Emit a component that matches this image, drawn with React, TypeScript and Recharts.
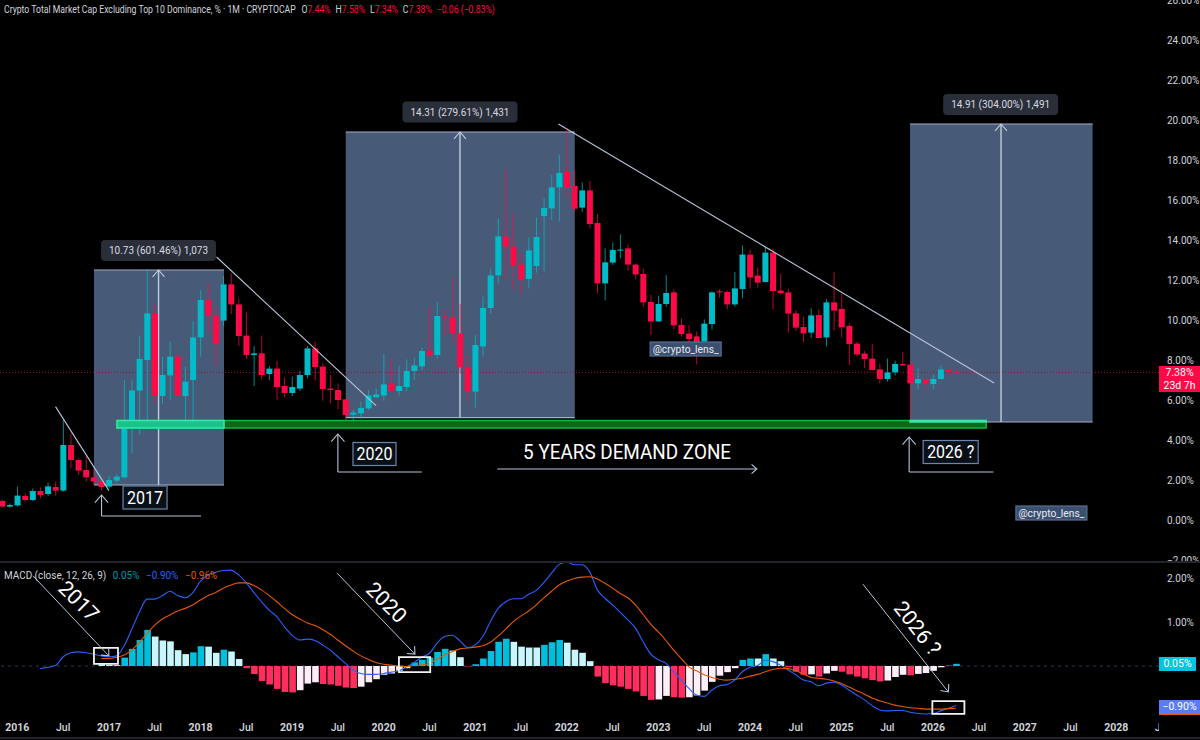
import React from "react";
import { ComposedChart, Bar, Line, Cell, XAxis, YAxis, ReferenceArea, ReferenceLine, ReferenceDot } from "recharts";

// ---- monthly candles, Nov 2015 .. Apr 2026 (index 0 = Nov 2015)
const opens = [.95,.67,.73,1.2,1.0,1.45,1.3,1.65,1.47,3.75,3.0,2.5,2.13,1.93,1.67,1.97,2.13,4.87,6.47,8.0,10.33,6.2,7.23,8.17,6.2,7.0,9.13,11.0,10.22,9.97,11.78,10.78,9.22,8.25,8.33,7.3,7.57,6.7,6.35,6.57,7.25,8.58,7.67,6.57,6.5,6.03,5.27,5.33,5.58,6.13,6.22,6.83,6.45,6.65,7.45,7.68,8.48,8.25,10.18,10.13,9.33,7.63,6.42,8.68,10.6,12.23,14.18,13.67,12.77,12.05,12.7,15.2,15.58,16.63,17.42,16.7,15.62,16.48,14.85,11.83,12.87,13.48,13.58,12.77,12.3,10.9,9.93,10.8,11.38,9.75,9.32,9.18,8.92,9.8,11.43,11.4,10.78,11.55,13.27,12.22,11.9,13.37,11.47,11.38,10.33,9.65,9.37,10.25,9.13,10.88,10.55,9.7,8.82,8.32,8.07,7.53,7.05,7.38,7.8,7.77,6.83,7.05,6.8,7.05,7.53,7.44];
const highs = [1.03,.83,1.67,1.33,1.58,1.63,1.88,1.92,5.0,4.33,3.08,3.17,2.58,2.08,2.2,2.3,7.0,7.03,9.22,12.53,10.8,8.17,8.92,8.33,7.67,9.95,11.5,11.83,10.67,12.2,12.33,11.08,10.38,8.7,9.22,7.7,7.95,7.13,7.17,7.47,8.7,8.92,7.83,7.25,6.83,6.05,5.5,5.92,6.5,6.58,8.3,8.0,7.7,8.03,8.1,8.63,10.7,10.88,10.53,12.13,10.8,8.25,9.25,11.17,12.58,15.07,17.53,15.33,13.33,14.13,15.13,16.1,17.25,18.25,19.53,17.47,16.88,16.95,15.3,13.58,13.87,14.28,13.78,12.83,12.58,11.25,11.2,12.25,11.53,10.08,9.75,9.43,10.03,11.43,11.55,11.47,12.4,13.73,13.5,12.62,13.63,13.57,12.3,11.55,10.5,10.17,10.58,10.53,11.05,12.4,11.33,9.83,8.92,8.45,8.8,7.83,8.07,7.97,8.4,8.0,7.6,7.08,7.25,7.73,7.57,7.58];
const lows = [.62,.63,.67,.92,.95,1.08,1.2,1.22,1.42,2.58,2.25,1.92,1.75,1.47,1.58,1.83,2.08,3.33,4.25,4.9,5.8,5.8,6.0,6.17,5.0,4.9,8.17,9.42,7.7,9.7,10.3,8.7,8.05,6.7,7.03,7.0,6.0,6.12,6.2,6.45,7.08,6.97,5.97,5.83,5.53,4.63,4.83,5.08,5.5,6.12,5.97,6.42,6.22,6.45,7.0,7.5,8.23,8.07,9.2,8.87,7.33,5.97,5.62,8.17,10.33,11.83,12.08,11.53,11.33,11.58,12.37,12.42,15.0,14.92,16.13,15.42,15.4,14.58,11.33,10.97,12.75,13.08,12.47,12.03,10.67,9.25,9.92,10.67,9.53,9.17,8.67,7.78,8.83,9.53,11.12,10.53,10.67,11.08,11.58,11.63,11.88,10.53,11.27,9.37,9.45,8.9,9.12,9.08,8.67,9.47,9.13,7.75,8.17,7.6,7.47,6.83,6.92,7.22,7.72,4.92,6.53,6.5,6.53,7.03,7.2,7.34];
const closes = [.67,.75,1.22,1.0,1.45,1.25,1.68,1.47,3.75,3.0,2.47,2.13,1.93,1.65,2.0,2.17,4.83,6.48,8.05,10.33,6.2,7.25,8.17,6.2,6.92,9.13,11.0,10.22,8.8,11.78,10.78,9.2,8.25,8.33,7.25,7.57,6.65,6.35,6.65,7.25,8.58,7.65,6.55,6.5,6.0,5.25,5.37,5.6,6.23,6.28,6.78,6.45,6.7,7.45,7.73,8.45,8.23,10.2,10.12,9.33,7.63,6.42,8.75,10.6,12.23,14.18,13.67,12.73,12.05,13.48,14.15,15.6,16.63,17.35,16.63,15.57,16.48,14.8,11.83,12.88,13.5,13.52,12.77,12.28,10.88,9.93,10.8,11.35,9.73,9.3,9.05,8.9,9.82,11.38,11.38,10.78,11.58,13.27,12.13,11.87,13.37,11.45,11.35,10.32,9.62,9.33,10.23,9.1,10.88,10.47,9.63,8.8,8.28,8.05,7.5,7.05,7.38,7.8,7.73,6.83,7.05,6.8,7.05,7.53,7.42,7.38];

// ---- MACD (macd line starts at index 5, signal and histogram at index 13)
const macdFirst = 5;
const signalFirst = 13;
const macdLine = [-.06,-.03,.01,.21,.30,.32,.30,.27,.23,.21,.23,.46,.84,1.23,1.52,1.52,1.60,1.70,1.60,1.55,1.67,1.93,2.07,2.13,2.17,2.18,2.07,1.89,1.67,1.46,1.27,1.12,.89,.70,.59,.61,.58,.48,.36,.21,.06,-.09,-.17,-.19,-.19,-.17,-.14,-.11,-.02,.08,.20,.29,.52,.67,.70,.57,.42,.48,.67,1.01,1.31,1.46,1.53,1.53,1.63,1.72,1.90,2.11,2.31,2.36,2.30,2.30,2.14,1.73,1.54,1.39,1.22,1.05,.86,.55,.27,.14,.06,-.13,-.32,-.51,-.66,-.69,-.55,-.45,-.42,-.32,-.13,-.03,.01,.13,.10,.02,-.09,-.20,-.32,-.36,-.45,-.39,-.37,-.43,-.55,-.66,-.77,-.90,-1.00,-1.02,-1.01,-1.01,-1.05,-1.08,-1.09,-1.08,-1.02,-.96,-.90];
const signalLine = [.17,.17,.20,.25,.36,.54,.74,.93,1.07,1.16,1.25,1.31,1.39,1.50,1.60,1.67,1.77,1.84,1.89,1.89,1.83,1.73,1.60,1.46,1.31,1.17,1.07,.98,.92,.83,.72,.59,.46,.34,.23,.15,.08,.04,.02,0,-.01,.01,.02,.06,.16,.25,.33,.39,.41,.43,.46,.54,.68,.84,1.01,1.14,1.25,1.39,1.55,1.70,1.84,1.93,1.99,2.02,2.03,1.98,1.88,1.77,1.65,1.55,1.39,1.17,.95,.77,.58,.36,.17,-.02,-.11,-.20,-.26,-.30,-.32,-.30,-.28,-.23,-.19,-.13,-.08,-.05,-.06,-.11,-.18,-.26,-.28,-.30,-.34,-.40,-.48,-.56,-.64,-.73,-.79,-.84,-.89,-.92,-.95,-.96,-.98,-.98,-.98,-.97,-.96];
const histogram = [.04,.03,.02,.19,.39,.59,.82,.67,.58,.56,.36,.27,.31,.45,.44,.30,.37,.33,.16,-.05,-.18,-.34,-.42,-.52,-.59,-.60,-.55,-.40,-.37,-.41,-.42,-.45,-.49,-.50,-.47,-.37,-.30,-.20,-.17,-.11,-.05,.08,.14,.19,.32,.39,.35,.20,-.01,.04,.17,.34,.55,.62,.55,.44,.42,.42,.48,.54,.59,.53,.37,.30,.11,-.24,-.39,-.44,-.47,-.52,-.58,-.68,-.77,-.76,-.68,-.71,-.72,-.71,-.67,-.56,-.36,-.22,-.14,-.05,.14,.17,.17,.27,.17,.11,-.03,-.13,-.20,-.19,-.24,-.17,-.11,-.13,-.19,-.24,-.28,-.32,-.35,-.33,-.25,-.20,-.21,-.18,-.16,-.11,-.03,.01,.05];

// ---- axes
const priceTicks = [-2,0,2,4,6,8,10,12,14,16,18,20,22,24,26];
const macdTicks = [1,2];
const timeTicks = [2,8,14,20,26,32,38,44,50,56,62,68,74,80,86,92,98,104,110,116,122,128,134,140,146,152];
const timeLabels = ["2016","Jul","2017","Jul","2018","Jul","2019","Jul","2020","Jul","2021","Jul","2022","Jul","2023","Jul","2024","Jul","2025","Jul","2026","Jul","2027","Jul","2028","Jul"];
const timeDomain = [-0.275, 151.6];
const priceDomain = [-2.05, 26];
const macdDomain = [-1.182, 2.364];
const lastPrice = 7.38;

// ---- drawings, in month index / percent
const boxes = [[12.04,29.08,1.75,12.5],[45.03,75.04,5.12,19.4],[118.98,142.9,4.9,19.8]];
const measures = [[20.5,1.75,20.5,12.5],[60,5.12,60,19.4],[130.9,4.9,130.9,19.8]];
const measureLabels = [[20.5,13.48,"10.73 (601.46%) 1,073"],[60,20.4,"14.31 (279.61%) 1,431"],[130.85,20.78,"14.91 (304.00%) 1,491"]];
const trendLines = [[7,5.67,14,1.47],[28.1,13.15,49,5.72],[72.9,19.8,130,6.85]];
const elbowUp = [[13.03,.2,13.03,1.25],[44,2.4,44,4.3],[118.86,2.4,118.86,4.15]];
const elbowFoot = [[13.03,.2,26.07,.2],[44,2.4,55,2.4],[118.86,2.4,129.9,2.4]];
const yearTags = [[18.73,1.125,"2017",44,36],[48.8,3.3,"2020",43,36],[124.3,3.4,"2026 ?",55,47]];
const handles = [[89.57,8.55],[137.5,.35]];
const demandLabel = "5 YEARS DEMAND ZONE";
const demandPos = [81.9,3.4];
const demandArrow = [64.9,2.55,98.9,2.55];
const zone = [15.06,128.95,4.6,4.97];
const zoneOverBoxes = [[15.06,29.08,4.6,4.97],[118.98,128.95,4.9,4.97]];
const macdArrows = [[4.05,2.05,14,.23],[43.9,2.11,54.1,.27],[112.8,1.86,124,-.59]];
const macdFrames = [[12.04,15.19,.05,.41],[52,56.1,-.14,.2],[121.9,126.1,-1.09,-.8]];
const macdNotes = [[10.08,1.48,"2017",45],[50.4,1.45,"2020",45],[120,.86,"2026 ?",52]];

const candles = opens.map((o, i) => ({ i, o, h: highs[i], l: lows[i], c: closes[i] }));
const macdRows = opens.map((_, i) => ({
  i,
  macd: i >= macdFirst ? macdLine[i - macdFirst] : null,
  signal: i >= signalFirst ? signalLine[i - signalFirst] : null,
  hist: i >= signalFirst ? histogram[i - signalFirst] : null,
}));

const FONT = "Roboto, sans-serif";
const UP = "#00bcc8";
const DOWN = "#ff0a47";
const AXIS = "#d1d4dc";
const LINE = "#b8c4d8";

function histColor(i: number) {
  const v = histogram[i];
  const prev = i > 0 ? histogram[i - 1] : v + 1;
  if (v >= 0) return v > prev ? "#00bfdc" : "#c8f6fc";
  return v < prev ? "#ff2e5e" : "#fdeefa";
}

function Candle(props: any) {
  const { x, y, width, height, payload } = props;
  const { o, h, l, c } = payload;
  const py = (v: number) => y + ((h - v) / (h - l)) * height;
  const cx = x + width / 2;
  const color = c >= o ? UP : DOWN;
  const top = py(Math.max(o, c));
  const bot = py(Math.min(o, c));
  return (
    <g>
      <line x1={cx} x2={cx} y1={y} y2={y + height} stroke={color} strokeOpacity={0.72} strokeWidth={1} />
      <rect x={x} y={top} width={width} height={Math.max(bot - top, 1)} fill={color} />
    </g>
  );
}

function arrowShape(color: string, w: number, size: number) {
  return (p: any) => {
    const a = Math.atan2(p.y2 - p.y1, p.x2 - p.x1);
    const pt = (d: number) => `${p.x2 - size * Math.cos(a + d)},${p.y2 - size * Math.sin(a + d)}`;
    return (
      <g>
        <line x1={p.x1} y1={p.y1} x2={p.x2} y2={p.y2} stroke={color} strokeWidth={w} />
        <polyline points={`${pt(0.72)} ${p.x2},${p.y2} ${pt(-0.72)}`} fill="none" stroke={color} strokeWidth={1.1} />
      </g>
    );
  };
}

const boxed = (w: number, h: number, fill: string, stroke: string, size: number, text: string, tw: number, color = "#fff", rx = 0) => (p: any) => (
  <g>
    <rect x={p.cx - w / 2} y={p.cy - h / 2} width={w} height={h} rx={rx} fill={fill} stroke={stroke} strokeWidth={stroke === "none" ? 0 : 1.2} />
    <text x={p.cx} y={p.cy} dy="0.36em" textAnchor="middle" fontFamily={FONT} fontSize={size} textLength={tw} lengthAdjust="spacingAndGlyphs" fill={color}>{text}</text>
  </g>
);

const rotated = (text: string, angle: number) => (p: any) => (
  <text x={p.cx} y={p.cy} dy="0.36em" textAnchor="middle" fontFamily={FONT} fontSize={21} fill="#fff" transform={`rotate(${angle} ${p.cx} ${p.cy})`}>{text}</text>
);

const plainText = (text: string, tw: number) => (p: any) => (
  <text x={p.cx} y={p.cy} dy="0.36em" textAnchor="middle" fontFamily={FONT} fontSize={20} textLength={tw} lengthAdjust="spacingAndGlyphs" fill="#fff">{text}</text>
);

function TimeTick(props: any) {
  const { x, y, payload } = props;
  const k = timeTicks.indexOf(payload.value);
  const label = timeLabels[k];
  return (
    <text x={x} y={y + 1} dy="0.36em" textAnchor="middle" clipPath="url(#timeClip)" fontFamily={FONT} fontSize={10.5} fontWeight={label === "Jul" ? 500 : 700} fill={AXIS}>{label}</text>
  );
}

const abs = (left: number, top: number, w: number, h: number, bg: string): React.CSSProperties => ({
  position: "absolute", left, top, width: w, height: h, background: bg,
});

const yTick = { fill: AXIS, fontSize: 10, fontFamily: FONT, textAnchor: "start" };

export default function App() {
  return (
    <div style={{ position: "fixed", left: 0, top: 0, width: 1200, height: 740, background: "#000", overflow: "hidden", fontFamily: FONT }}>
      <div style={{ position: "absolute", left: 0, top: 0 }}>
        <ComposedChart width={1200} height={561} data={candles} margin={{ top: 0, right: 0, bottom: 0, left: 0 }}>
          <XAxis dataKey="i" type="number" domain={timeDomain} allowDataOverflow hide />
          <YAxis orientation="right" width={41} domain={priceDomain} allowDataOverflow ticks={priceTicks} interval={0} axisLine={false} tickLine={false} tickMargin={2}
            tick={yTick} tickFormatter={(v: number) => `${v < 0 ? "−" : ""}${Math.abs(v).toFixed(2)}%`} />
          {boxes.map((b, k) => (
            <ReferenceArea key={k} x1={b[0]} x2={b[1]} y1={b[2]} y2={b[3]} fill="#475a78" fillOpacity={1} stroke="none" ifOverflow="visible" zIndex={50} />
          ))}
          {boxes.flatMap((b, k) => [b[2], b[3]].map((v, n) => (
            <ReferenceLine key={`${k}-${n}`} segment={[{ x: b[0], y: v }, { x: b[1], y: v }]} stroke="#a6b0c2" strokeWidth={1.2} ifOverflow="visible" zIndex={55} />
          )))}
          <ReferenceLine y={lastPrice} stroke="#9a1236" strokeWidth={1} strokeDasharray="1 2" zIndex={60} />
          {measures.map((m, k) => (
            <ReferenceLine key={k} segment={[{ x: m[0], y: m[1] }, { x: m[2], y: m[3] }]} ifOverflow="visible" shape={arrowShape("#c3ccdb", 1.4, 9)} zIndex={70} />
          ))}
          <Bar dataKey={(d: any) => [d.l, d.h]} barSize={6} isAnimationActive={false} shape={<Candle />} />
          <ReferenceArea x1={zone[0]} x2={zone[1]} y1={zone[2]} y2={zone[3]} fill="#05701a" fillOpacity={0.95} stroke="#12b536" strokeWidth={1.5} ifOverflow="visible" zIndex={350} />
          {zoneOverBoxes.map((b, k) => (
            <ReferenceArea key={k} x1={b[0]} x2={b[1]} y1={b[2]} y2={b[3]} fill="#1cc792" fillOpacity={0.95} stroke="#35e6ad" strokeWidth={1.5} ifOverflow="visible" zIndex={351} />
          ))}
          {trendLines.map((t, k) => (
            <ReferenceLine key={k} segment={[{ x: t[0], y: t[1] }, { x: t[2], y: t[3] }]} stroke={LINE} strokeWidth={1.1} ifOverflow="visible" zIndex={400} />
          ))}
          {elbowUp.map((t, k) => (
            <ReferenceLine key={k} segment={[{ x: t[0], y: t[1] }, { x: t[2], y: t[3] }]} ifOverflow="visible" shape={arrowShape(LINE, 1.1, 10)} zIndex={400} />
          ))}
          {elbowFoot.map((t, k) => (
            <ReferenceLine key={k} segment={[{ x: t[0], y: t[1] }, { x: t[2], y: t[3] }]} stroke={LINE} strokeWidth={1.1} ifOverflow="visible" zIndex={400} />
          ))}
          <ReferenceLine segment={[{ x: demandArrow[0], y: demandArrow[1] }, { x: demandArrow[2], y: demandArrow[3] }]} ifOverflow="visible" shape={arrowShape(LINE, 1.1, 7)} zIndex={400} />
          {measureLabels.map((m, k) => (
            <ReferenceDot key={k} x={m[0] as number} y={m[1] as number} r={0} ifOverflow="visible" zIndex={700}
              shape={boxed(115, 21, "#2a2e39", "none", 11, m[2] as string, 99, "#d8dbe3", 4)} />
          ))}
          {yearTags.map((t, k) => (
            <ReferenceDot key={k} x={t[0] as number} y={t[1] as number} r={0} ifOverflow="visible" zIndex={700}
              shape={boxed(t[3] as number, 23, "#0a1018", "#6a86ad", 18, t[2] as string, t[4] as number)} />
          ))}
          {handles.map((h, k) => (
            <ReferenceDot key={k} x={h[0]} y={h[1]} r={0} ifOverflow="visible" zIndex={700}
              shape={boxed(71, 14, "#3b4f70", "#5a6e90", 10.5, "@crypto_lens_", 66, "#e8ecf3")} />
          ))}
          <ReferenceDot x={demandPos[0]} y={demandPos[1]} r={0} ifOverflow="visible" zIndex={700} shape={plainText(demandLabel, 208)} />
        </ComposedChart>
      </div>

      <div style={{ position: "absolute", left: 0, top: 562 }}>
        <ComposedChart width={1200} height={178} data={macdRows} margin={{ top: 0, right: 0, bottom: 0, left: 0 }}>
          <defs>
            <clipPath id="timeClip"><rect x={0} y={0} width={1159} height={178} /></clipPath>
          </defs>
          <XAxis dataKey="i" type="number" domain={timeDomain} allowDataOverflow ticks={timeTicks} interval={0} height={22} axisLine={false} tickLine={false} tick={<TimeTick />} />
          <YAxis orientation="right" width={41} domain={macdDomain} allowDataOverflow ticks={macdTicks} interval={0} axisLine={false} tickLine={false} tickMargin={2}
            tick={yTick} tickFormatter={(v: number) => `${v.toFixed(2)}%`} />
          <ReferenceLine y={0} stroke="#2c3a55" strokeWidth={1} strokeDasharray="3 4" zIndex={60} />
          <Bar dataKey="hist" barSize={6.6} isAnimationActive={false}>
            {macdRows.map((r, k) => (
              <Cell key={k} fill={r.hist === null ? "none" : histColor(k - signalFirst)} />
            ))}
          </Bar>
          <Line dataKey="macd" type="monotone" stroke="#2962ff" strokeWidth={1.1} dot={false} isAnimationActive={false} />
          <Line dataKey="signal" type="monotone" stroke="#e65a00" strokeWidth={1.1} dot={false} isAnimationActive={false} />
          {macdFrames.map((f, k) => (
            <ReferenceArea key={k} x1={f[0]} x2={f[1]} y1={f[2]} y2={f[3]} fill="none" stroke="#f4f4f4" strokeWidth={1.8} ifOverflow="visible" zIndex={700} />
          ))}
          {macdArrows.map((t, k) => (
            <ReferenceLine key={k} segment={[{ x: t[0], y: t[1] }, { x: t[2], y: t[3] }]} ifOverflow="visible" shape={arrowShape(LINE, 1, 8)} zIndex={700} />
          ))}
          {macdNotes.map((n, k) => (
            <ReferenceDot key={k} x={n[0] as number} y={n[1] as number} r={0} ifOverflow="visible" zIndex={700} shape={rotated(n[2] as string, n[3] as number)} />
          ))}
        </ComposedChart>
      </div>

      <div style={abs(0, 561, 1200, 1.5, "#22252e")} />
      <div style={abs(0, 737, 1200, 1.5, "#22252e")} />

      <div style={{ position: "absolute", left: 4, top: 2, fontSize: 10.5, lineHeight: "16px", color: AXIS, whiteSpace: "nowrap", transform: "scaleX(0.825)", transformOrigin: "left" }}>
        Crypto Total Market Cap Excluding Top 10 Dominance, % · 1M · CRYPTOCAP
        <span style={{ marginLeft: 7 }}>O<span style={{ color: DOWN }}>7.44%</span></span>
        <span style={{ marginLeft: 6 }}>H<span style={{ color: DOWN }}>7.58%</span></span>
        <span style={{ marginLeft: 6 }}>L<span style={{ color: DOWN }}>7.34%</span></span>
        <span style={{ marginLeft: 6 }}>C<span style={{ color: DOWN }}>7.38%</span></span>
        <span style={{ marginLeft: 6, color: DOWN }}>−0.06 (−0.83%)</span>
      </div>
      <div style={{ position: "absolute", left: 4, top: 568, fontSize: 10.5, lineHeight: "16px", color: AXIS, whiteSpace: "nowrap", transform: "scaleX(0.945)", transformOrigin: "left" }}>
        MACD (close, 12, 26, 9)
        <span style={{ marginLeft: 7, color: "#0097a7" }}>0.05%</span>
        <span style={{ marginLeft: 7, color: "#2962ff" }}>−0.90%</span>
        <span style={{ marginLeft: 7, color: "#e65a00" }}>−0.96%</span>
      </div>

      <div style={{ ...abs(1159, 366, 41, 26, "#ff0a47"), color: "#fff", fontSize: 10.5, lineHeight: "13px", textAlign: "center" }}>7.38%<br />23d 7h</div>
      <div style={{ ...abs(1159, 657, 37, 14, "#00c4e0"), color: "#fff", fontSize: 10.5, lineHeight: "14px", textAlign: "center" }}>0.05%</div>
      <div style={{ ...abs(1159, 700, 41, 14, "#5b7cf5"), borderBottom: "1px solid #e65a00", color: "#fff", fontSize: 10.5, lineHeight: "14px", textAlign: "center" }}>−0.90%</div>
    </div>
  );
}
